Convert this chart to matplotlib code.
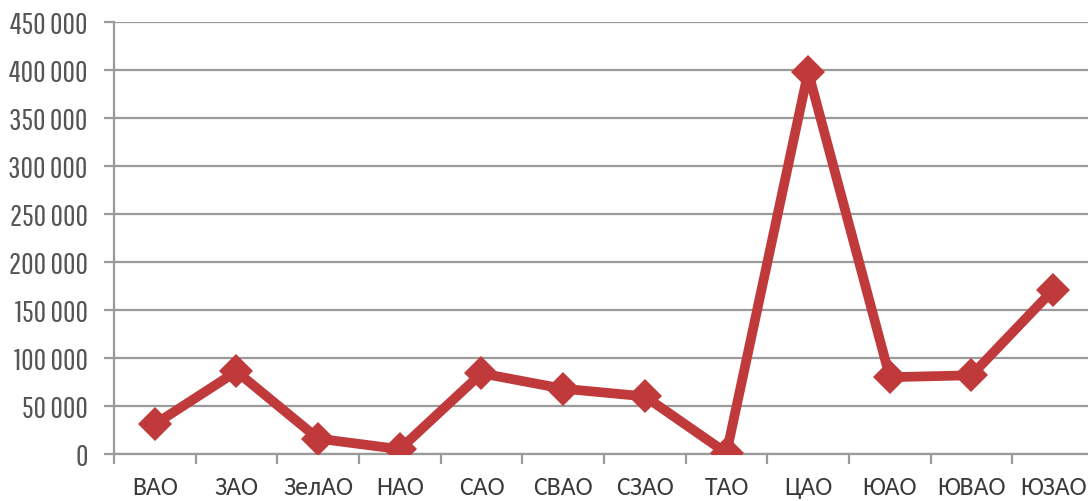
import matplotlib
matplotlib.use("Agg")
import numpy as np
from matplotlib import pyplot as plt
from matplotlib.ticker import FuncFormatter

# ---------------------------- Dados ---------------------------- #
okruga = ["ВАО", "ЗАО", "ЗелАО", "НАО", "САО", "СВАО", "СЗАО", "ТАО",
          "ЦАО", "ЮАО", "ЮВАО", "ЮЗАО"]
valores = [31000, 86000, 16000, 5000, 84000, 68000, 60000, 1000,
           398000, 80000, 82000, 171000]
y_ticks = [0, 50000, 100000, 150000, 200000, 250000, 300000, 350000, 400000, 450000]

cor_linha = "#C0393B"
cor_grade = "#9A9A9A"
fonte_y = ["Pathway Gothic One", "PT Sans Narrow", "DejaVu Sans"]
fonte_x = ["Carlito", "Open Sans", "DejaVu Sans"]

# ---------------------------- Figura ---------------------------- #
fig = plt.figure(figsize=(10.88, 5.01), dpi=100)
ax = fig.add_axes([114 / 1088, 47 / 501, 980 / 1088, 432 / 501])

x = np.arange(len(okruga))
ax.plot(x, valores, color=cor_linha, linewidth=7, marker="D",
        markersize=17, markeredgewidth=0, solid_joinstyle="round", zorder=3)

ax.set_xlim(-0.5, len(okruga) - 0.5)
ax.set_ylim(0, 450000)
ax.set_yticks(y_ticks)
ax.yaxis.set_major_formatter(FuncFormatter(lambda v, p: f"{int(v):,}".replace(",", " ")))
ax.grid(axis="y", color=cor_grade, linewidth=1.6)
ax.set_axisbelow(True)

# ticks x entre categorias
ax.set_xticks(np.arange(len(okruga) + 1) - 0.5)
ax.set_xticklabels([])
ax.set_xticks(x, minor=True)
ax.set_xticklabels(okruga, minor=True)
ax.tick_params(axis="x", which="major", length=7, width=1.6, color=cor_grade, direction="out")
ax.tick_params(axis="x", which="minor", length=0, pad=16)
ax.tick_params(axis="y", length=7, width=1.6, color=cor_grade, pad=12)

for lbl in ax.get_xticklabels(minor=True):
    lbl.set_family(fonte_x)
    lbl.set_fontsize(18.5)
    lbl.set_color("#3A3A3A")
for lbl in ax.get_yticklabels():
    lbl.set_family(fonte_y)
    lbl.set_fontsize(22)
    lbl.set_color("#555555")

for lado in ["top", "right"]:
    ax.spines[lado].set_visible(False)
for lado in ["left", "bottom"]:
    ax.spines[lado].set_color(cor_grade)
    ax.spines[lado].set_linewidth(1.6)

fig.savefig("out.png", dpi=100)
